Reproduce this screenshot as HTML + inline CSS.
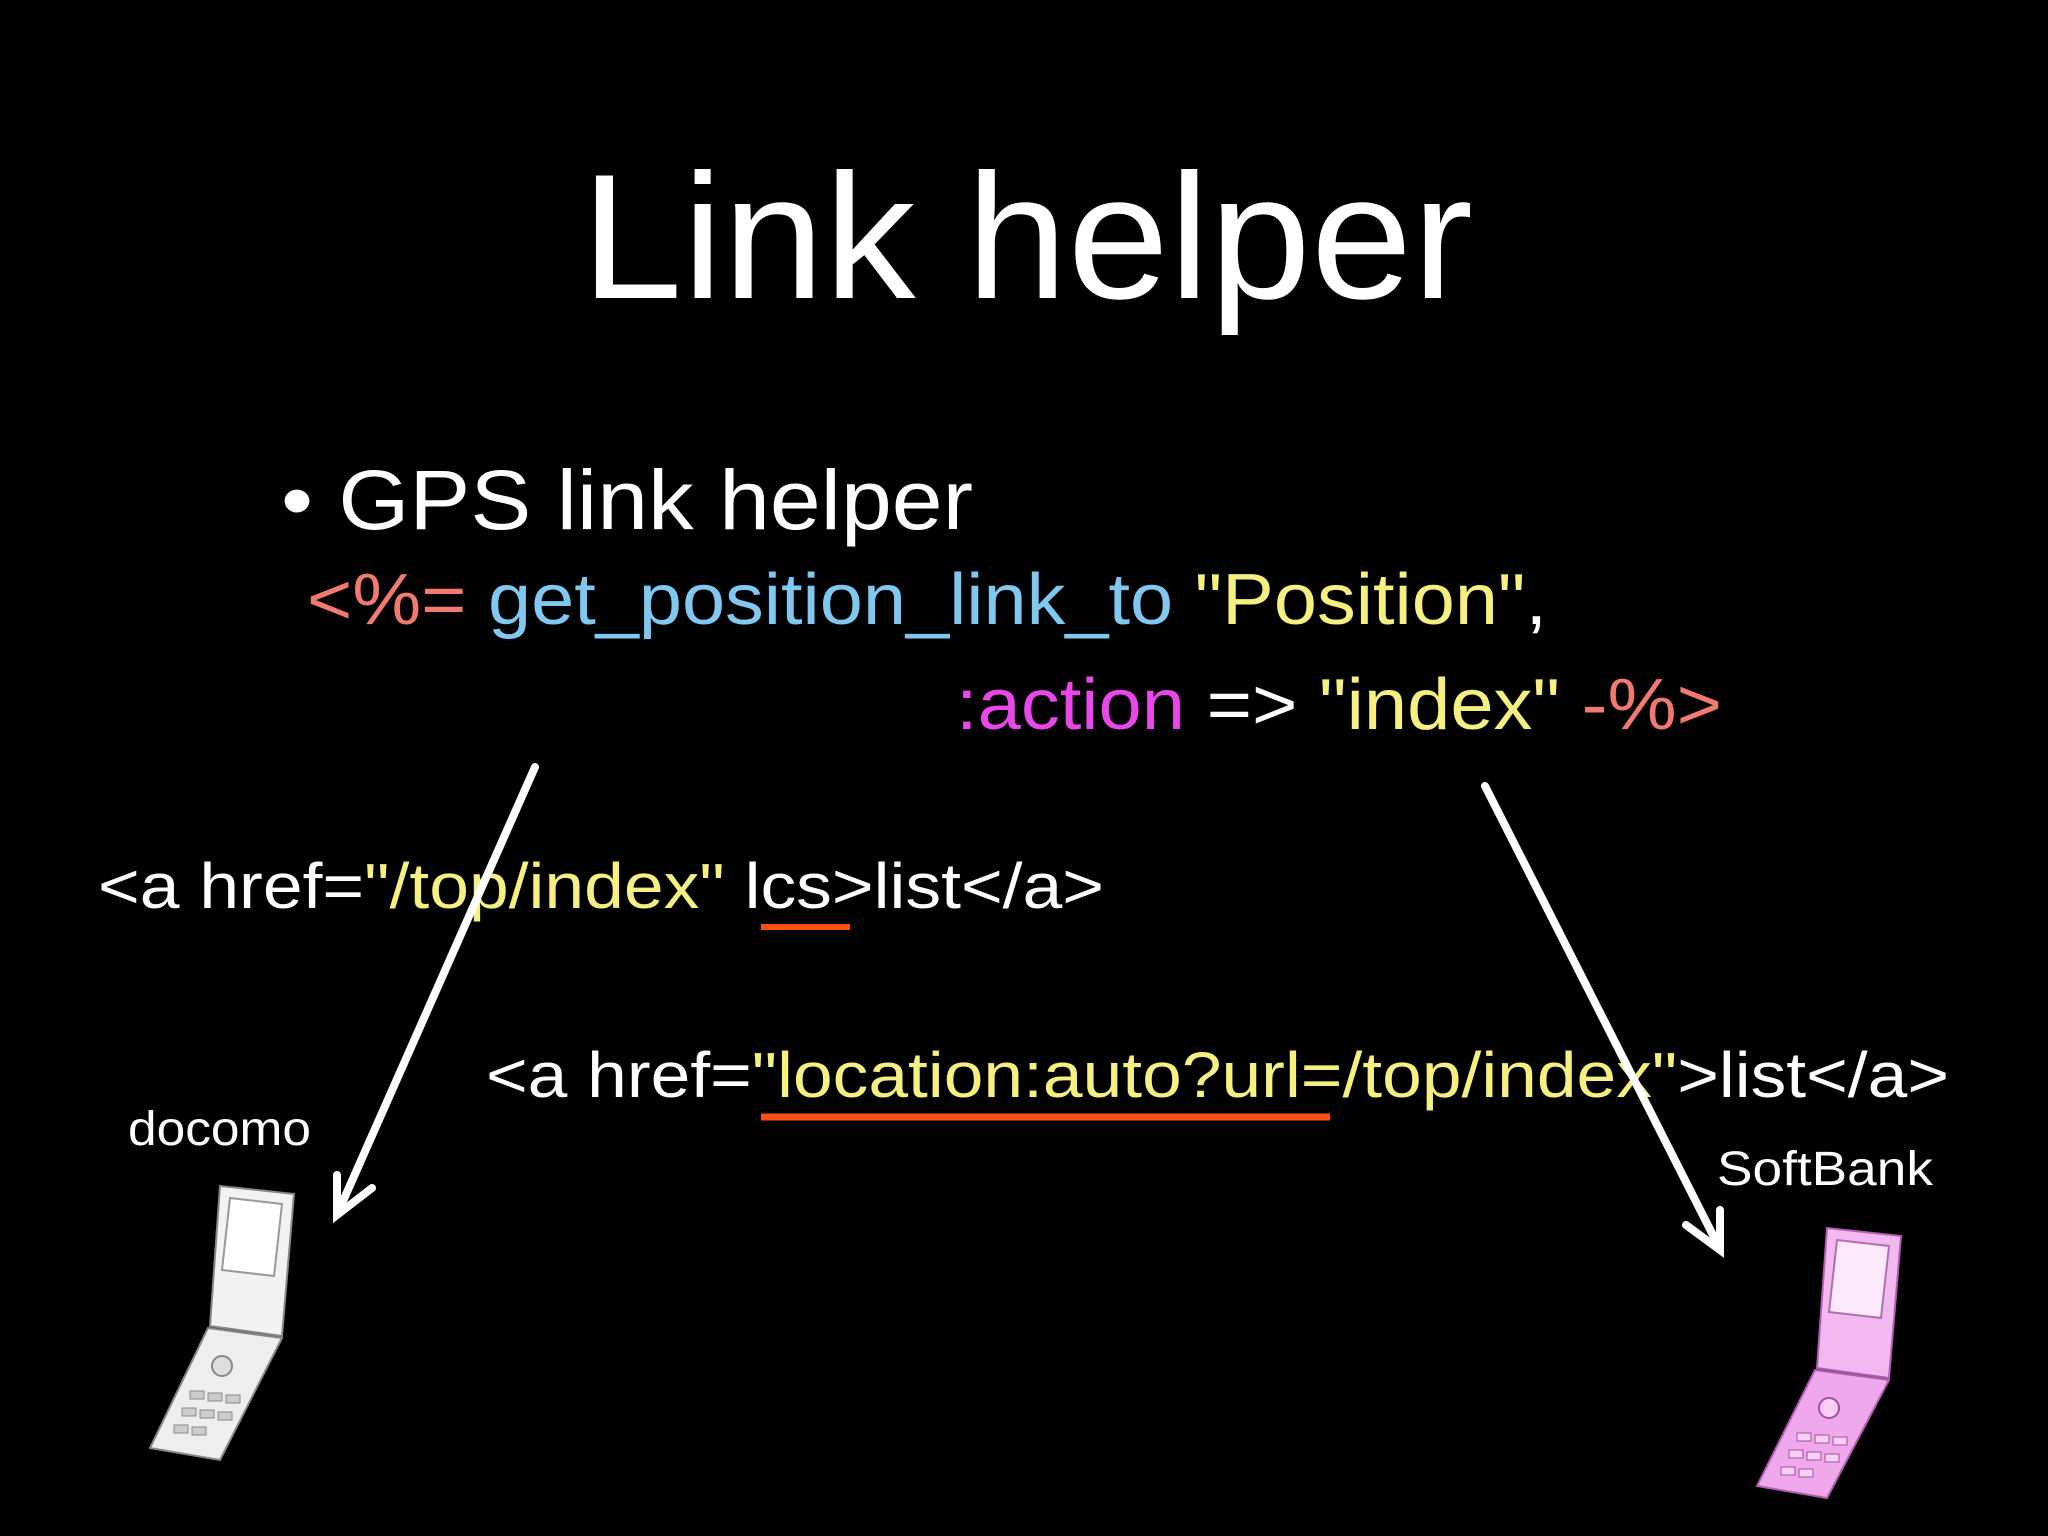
<!DOCTYPE html>
<html><head><meta charset="utf-8"><style>
html,body{margin:0;padding:0;background:#000;}
svg{display:block}
text{font-family:"Liberation Sans",sans-serif;}
</style></head><body>
<svg width="2048" height="1536" viewBox="0 0 2048 1536" xmlns="http://www.w3.org/2000/svg">
<rect width="2048" height="1536" fill="#000"/>
<text x="581" y="298" font-size="178" fill="#fff" textLength="892" lengthAdjust="spacingAndGlyphs">Link helper</text>
<text x="281" y="529" font-size="84" fill="#fff" textLength="692" lengthAdjust="spacingAndGlyphs">• GPS link helper</text>
<text x="307" y="624" font-size="72" textLength="1240" lengthAdjust="spacingAndGlyphs"><tspan fill="#f07a70">&lt;%= </tspan><tspan fill="#80c8f0">get_position_link_to </tspan><tspan fill="#f5f080">"Position"</tspan><tspan fill="#fff">,</tspan></text>
<text x="956" y="729" font-size="72" textLength="766" lengthAdjust="spacingAndGlyphs"><tspan fill="#e848e8">:action </tspan><tspan fill="#fff">=&gt; </tspan><tspan fill="#f5f080">"index" </tspan><tspan fill="#f07a70">-%&gt;</tspan></text>
<text x="98" y="908" font-size="64" textLength="1006" lengthAdjust="spacingAndGlyphs"><tspan fill="#fff">&lt;a href=</tspan><tspan fill="#f5f080">"/top/index"</tspan><tspan fill="#fff"> lcs&gt;list&lt;/a&gt;</tspan></text>
<text x="486" y="1097" font-size="64" textLength="1463" lengthAdjust="spacingAndGlyphs"><tspan fill="#fff">&lt;a href=</tspan><tspan fill="#f5f080">"location:auto?url=/top/index"</tspan><tspan fill="#fff">&gt;list&lt;/a&gt;</tspan></text>
<line x1="761" y1="927" x2="850" y2="927" stroke="#ff5010" stroke-width="6"/>
<line x1="761" y1="1117" x2="1330" y2="1117" stroke="#ff5010" stroke-width="7"/>
<text x="128" y="1145" font-size="48" fill="#fff" textLength="183" lengthAdjust="spacingAndGlyphs">docomo</text>
<text x="1717" y="1185" font-size="48" fill="#fff" textLength="216" lengthAdjust="spacingAndGlyphs">SoftBank</text>
<g stroke="#fff" stroke-width="8" fill="none" stroke-linecap="round">
<line x1="535" y1="767" x2="340" y2="1208"/>
<polyline points="337,1175 337,1215 372,1188" />
<line x1="1485" y1="786" x2="1717" y2="1243"/>
<polyline points="1686,1225 1720,1250 1720,1210"/>
</g>
<!-- left phone -->
<g transform="translate(150,1186)">
<path d="M70 0 L144 8 L132 150 L60 140 Z" fill="#f2f2f2" stroke="#888" stroke-width="2"/>
<path d="M80 12 L132 18 L124 90 L72 84 Z" fill="#fff" stroke="#999" stroke-width="2"/>
<path d="M58 142 L132 152 L70 274 L0 262 Z" fill="#eee" stroke="#888" stroke-width="2"/>
<circle cx="72" cy="180" r="10" fill="#ddd" stroke="#888" stroke-width="2"/>
<g fill="#ccc" stroke="#888"><rect x="40" y="205" width="14" height="8"/><rect x="58" y="207" width="14" height="8"/><rect x="76" y="209" width="14" height="8"/><rect x="32" y="222" width="14" height="8"/><rect x="50" y="224" width="14" height="8"/><rect x="68" y="226" width="14" height="8"/><rect x="24" y="239" width="14" height="8"/><rect x="42" y="241" width="14" height="8"/></g>
</g>
<!-- right phone -->
<g transform="translate(1757,1228)">
<path d="M70 0 L144 8 L132 150 L60 140 Z" fill="#f4b8f0" stroke="#b060b0" stroke-width="2"/>
<path d="M80 12 L132 18 L124 90 L72 84 Z" fill="#fce8fb" stroke="#b070b0" stroke-width="2"/>
<path d="M58 142 L132 152 L70 270 L0 258 Z" fill="#f0a8ec" stroke="#b060b0" stroke-width="2"/>
<circle cx="72" cy="180" r="10" fill="#f8d0f5" stroke="#a050a0" stroke-width="2"/>
<g fill="#f8d0f5" stroke="#a050a0"><rect x="40" y="205" width="14" height="8"/><rect x="58" y="207" width="14" height="8"/><rect x="76" y="209" width="14" height="8"/><rect x="32" y="222" width="14" height="8"/><rect x="50" y="224" width="14" height="8"/><rect x="68" y="226" width="14" height="8"/><rect x="24" y="239" width="14" height="8"/><rect x="42" y="241" width="14" height="8"/></g>
</g>
</svg>
</body></html>
